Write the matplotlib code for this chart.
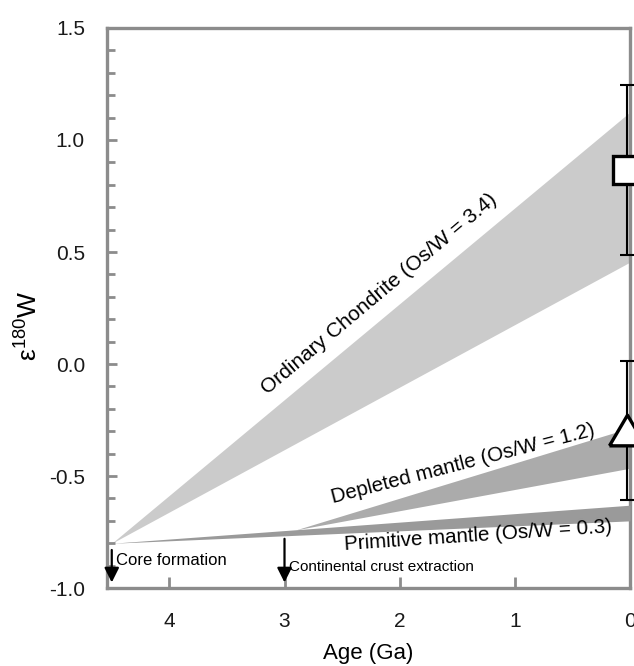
import numpy as np
import matplotlib
matplotlib.use("Agg")
from matplotlib import pyplot as plt
from matplotlib.ticker import MultipleLocator

plt.rcParams['font.family'] = ['Liberation Sans', 'DejaVu Sans']
plt.rcParams['mathtext.default'] = 'regular'

# growth bands: age (Ga) where they start, value at start, upper/lower value today
t_start = 4.5
eps_start = -0.8
chondrite_now = [1.125, 0.455]
primitive_now = [-0.63, -0.70]
depleted_start_age = 2.9
depleted_start = -0.74
depleted_now = [-0.285, -0.465]

# modern samples: mean and 2 sd
samples = ['square', 'triangle']
sample_age = [0.025, 0.025]
sample_eps = [0.866, -0.295]
sample_err = [0.38, 0.31]

events = ['Core formation', 'Continental crust extraction']
event_age = [4.5, 3.0]

gray = '#8c8c8c'

fig = plt.figure(figsize=(6.34, 6.66), dpi=100)
ax = fig.add_axes([0.169, 0.117, 0.8247, 0.841])

x = np.array([t_start, 0.0])
ax.fill_between(x, [eps_start, chondrite_now[1]], [eps_start, chondrite_now[0]],
                color='#cbcbcb', lw=0, zorder=1)
xd = np.array([depleted_start_age, 0.0])
ax.fill_between(xd, [depleted_start, depleted_now[1]], [depleted_start, depleted_now[0]],
                color='#ababab', lw=0, zorder=2)
ax.fill_between(x, [eps_start, primitive_now[1]], [eps_start, primitive_now[0]],
                color='#9a9a9a', lw=0, zorder=3)

# error bars then markers on top (they hang over the right spine)
for a, e, s in zip(sample_age, sample_eps, sample_err):
    ax.errorbar(a, e, yerr=s, fmt='none', ecolor='k', elinewidth=1.5,
                capsize=5, capthick=1.5, zorder=5, clip_on=False)
ax.plot(sample_age[0], sample_eps[0], marker='s', ms=20, mfc='white', mec='k',
        mew=2.4, zorder=10, clip_on=False)
tri = [(-1, -0.85), (1, -0.85), (0, 0.85), (-1, -0.85)]
ax.plot(sample_age[1], sample_eps[1], marker=tri, ms=26, mfc='white', mec='k',
        mew=2.4, zorder=10, clip_on=False)

# event arrows
for a in event_age:
    y0 = -0.83 if a > 4 else -0.78
    ax.annotate('', xy=(a, -0.975), xytext=(a, y0),
                arrowprops=dict(arrowstyle='-|>', color='k', lw=1.6,
                                mutation_scale=22, shrinkA=0, shrinkB=0), zorder=6)
ax.text(4.46, -0.895, events[0], fontsize=12, ha='left', va='baseline')
ax.text(2.96, -0.925, events[1], fontsize=11, ha='left', va='baseline')

ax.text(3.15, -0.14, 'Ordinary Chondrite (Os/W = 3.4)', fontsize=15,
        rotation=40, rotation_mode='anchor', ha='left', va='baseline')
ax.text(2.58, -0.62, 'Depleted mantle (Os/W = 1.2)', fontsize=14.8,
        rotation=14.5, rotation_mode='anchor', ha='left', va='baseline')
ax.text(2.48, -0.83, 'Primitive mantle (Os/W = 0.3)', fontsize=14.8,
        rotation=3.8, rotation_mode='anchor', ha='left', va='baseline')

ax.set_xlim(4.54, 0)
ax.set_ylim(-1.0, 1.5)
ax.set_xticks([4, 3, 2, 1, 0])
ax.yaxis.set_major_locator(MultipleLocator(0.5))
ax.yaxis.set_minor_locator(MultipleLocator(0.1))
ax.set_yticklabels(['%.1f' % v for v in ax.get_yticks()])
ax.tick_params(which='both', direction='in', color=gray, width=2, labelsize=15,
               labelcolor='#1a1a1a')
ax.tick_params(axis='y', which='major', length=7, pad=16)
ax.tick_params(axis='y', which='minor', length=6)
ax.tick_params(axis='x', length=8, pad=17)
for sp in ax.spines.values():
    sp.set_color(gray)
    sp.set_linewidth(2.4)

ax.set_xlabel('Age (Ga)', fontsize=16, labelpad=9)
ax.set_ylabel('ε$^{180}$W', fontsize=19)
ax.yaxis.set_label_coords(-0.124, 0.468)

fig.savefig('out.png', dpi=100)
